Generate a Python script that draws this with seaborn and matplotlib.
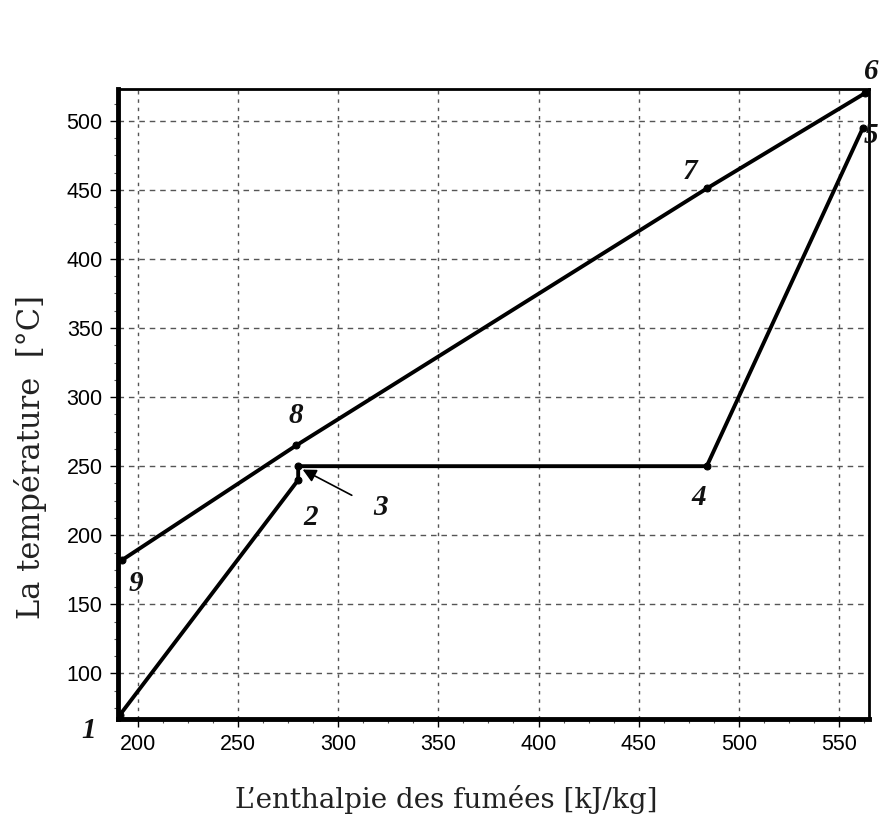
import matplotlib
matplotlib.use("Agg")
import matplotlib.pyplot as plt
from matplotlib.ticker import AutoMinorLocator
import pandas as pd
import seaborn as sns

# Fumées (hot side): points 9 -> 8 -> 7 -> 6
fumees_h = [192, 279, 484, 563]
fumees_t = [182, 265, 451, 520]
fumees_ids = ["9", "8", "7", "6"]

# Eau / vapeur (cold side): points 1 -> 2 -> 3 -> 4 -> 5
eau_h = [191, 280, 280, 484, 562]
eau_t = [70, 240, 250, 250, 495]
eau_ids = ["1", "2", "3", "4", "5"]

x_ticks = [200, 250, 300, 350, 400, 450, 500, 550]
y_ticks = [100, 150, 200, 250, 300, 350, 400, 450, 500]

sns.set_theme(style="white")
plt.rcParams["font.family"] = ["Liberation Sans", "DejaVu Sans"]

df_hot = pd.DataFrame({"h": fumees_h, "t": fumees_t, "id": fumees_ids})
df_cold = pd.DataFrame({"h": eau_h, "t": eau_t, "id": eau_ids})

fig = plt.figure(figsize=(8.8, 8.22), dpi=100)
ax = fig.add_axes([0.134, 0.1253, 0.8535, 0.7664])

for df in (df_hot, df_cold):
    sns.lineplot(data=df, x="h", y="t", sort=False, estimator=None, ax=ax,
                 color="black", linewidth=2.8, marker="o", markersize=5,
                 markeredgecolor="black", markerfacecolor="black")

ax.set_xlim(190, 565)
ax.set_ylim(67, 523)
ax.set_xticks(x_ticks)
ax.set_yticks(y_ticks)
ax.xaxis.set_minor_locator(AutoMinorLocator(4))
ax.yaxis.set_minor_locator(AutoMinorLocator(4))
ax.tick_params(axis="both", which="major", labelsize=15.5, length=6, width=1,
               direction="out", color="black", colors="black",
               bottom=True, left=True, pad=5)
ax.tick_params(axis="both", which="minor", length=3, width=0.8,
               direction="out", color="#555555", bottom=True, left=True)

# dashed grid: short dashes on verticals, longer on horizontals
ax.xaxis.grid(True, which="major", color="#555555", linestyle=(0, (2.5, 3.5)),
              linewidth=1.0)
ax.yaxis.grid(True, which="major", color="#555555", linestyle=(0, (4, 3.5)),
              linewidth=1.0)

for side in ("left", "bottom"):
    ax.spines[side].set_linewidth(3.5)
    ax.spines[side].set_color("black")
for side in ("top", "right"):
    ax.spines[side].set_linewidth(2.0)
    ax.spines[side].set_color("black")
    ax.spines[side].set_visible(True)

label_font = ["DejaVu Serif", "Liberation Serif"]
ax.set_xlabel("L\u2019enthalpie des fumées [kJ/kg]", fontsize=20,
              family=label_font, color="#222222")
ax.set_ylabel("La température  [°C]", fontsize=22, family=label_font,
              color="#222222")
ax.xaxis.set_label_coords(0.437, -0.105)
ax.yaxis.set_label_coords(-0.094, 0.416)

num_font = ["Liberation Serif", "DejaVu Serif"]
num_style = dict(fontsize=21, fontweight="bold", fontstyle="italic",
                 family=num_font, color="#111111", ha="center", va="center")
label_offsets = {
    "9": (7, -17), "8": (0, 22), "7": (-8.5, 12), "6": (3, 16),
    "1": (-15.5, -11), "2": (6, -27), "3": (41, -30), "4": (-4, -22.5),
    "5": (4, -6),
}
for df in (df_hot, df_cold):
    for h, t, name in zip(df["h"], df["t"], df["id"]):
        dx, dy = label_offsets[name]
        ax.text(h + dx, t + dy, name, clip_on=False, **num_style)

# Arrow pointing to point 3
ax.annotate("", xy=(281, 248.5), xytext=(308, 228),
            arrowprops=dict(arrowstyle="-|>", color="black", lw=1.2,
                            mutation_scale=20))

fig.savefig("out.png", dpi=100, facecolor="white")
